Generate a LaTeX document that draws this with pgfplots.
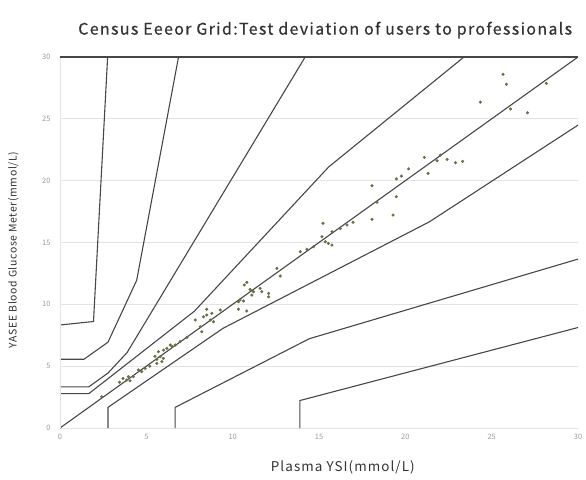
\documentclass[border=0pt]{standalone}
\usepackage{pgfplots}
\pgfplotsset{compat=1.18}
\usepackage{fontspec}
\setmainfont{Noto Sans CJK SC}
\newfontfamily\titlefont{Noto Sans CJK SC}[LetterSpace=8.5, FakeBold=0.6]
\newfontfamily\labelfont{Noto Sans CJK SC}[LetterSpace=8]
\newfontfamily\ylabelfont{Noto Sans CJK SC}[LetterSpace=6]
\definecolor{zone}{HTML}{474747}
\definecolor{gridc}{HTML}{E3E3E3}
\definecolor{tickc}{HTML}{9A9A9A}
\definecolor{dotc}{HTML}{637040}
\definecolor{textc}{HTML}{333333}
\begin{document}
\begin{tikzpicture}
\begin{axis}[name=ax, at={(0,0)}, anchor=south west,
  scale only axis, width=518bp, height=371bp,
  xmin=0, xmax=30, ymin=0, ymax=30,
  xtick={0,5,...,30}, ytick={0,5,...,30},
  axis line style={draw=none},
  major tick length=0pt,
  ymajorgrids, grid style={color=gridc, line width=0.9bp},
  tick label style={font=\fontsize{7.5}{8}\selectfont, color=tickc},
  /pgf/number format/assume math mode=true,
  xticklabel style={yshift=-3bp},
  yticklabel style={xshift=-6bp},
  xlabel={\labelfont\fontsize{13.5}{15}\selectfont Plasma YSI(mmol/L)},
  xlabel style={at={(axis description cs:0.546,0)}, anchor=center, yshift=-39bp, color=textc},
  ylabel={\ylabelfont\fontsize{10.5}{12}\selectfont YASEE Blood Glucose Meter(mmol/L)},
  ylabel style={at={(axis description cs:-0.09,0.48)}, anchor=center, color=textc},
  title={\titlefont\fontsize{16}{18}\selectfont Census Eeeor Grid:Test deviation of users to professionals},
  title style={at={(axis description cs:0.512,1)}, anchor=center, yshift=21bp, color=textc},
  every axis plot/.append style={line width=1.1bp, color=zone},
]
% identity
\addplot[no marks] coordinates {(0,0) (30,30)};
% A upper
\addplot[no marks] coordinates {(0,2.78) (1.67,2.78) (7.78,9.44) (15.56,21.11) (23.89,30.56)};
% A lower
\addplot[no marks] coordinates {(2.78,0) (2.78,1.67) (9.44,8.06) (21.39,16.67) (30.56,25)};
% B upper
\addplot[no marks] coordinates {(0,3.33) (1.67,3.33) (2.78,4.44) (3.89,6.11) (14.44,30.56)};
% B lower
\addplot[no marks] coordinates {(6.67,0) (6.67,1.67) (14.44,7.22) (30.56,13.89)};
% C upper
\addplot[no marks] coordinates {(0,5.56) (1.39,5.56) (2.78,6.94) (4.44,11.94) (6.94,30.56)};
% C lower
\addplot[no marks] coordinates {(13.89,0) (13.89,2.22) (30.56,8.33)};
% D upper
\addplot[no marks] coordinates {(0,8.33) (1.94,8.61) (2.78,30.56)};
% measurements
\addplot[only marks, mark=*, mark size=1.4bp, color=dotc, fill=dotc, line width=0.3bp] coordinates {
(25.66,28.6) (25.86,27.8) (24.35,26.35) (28.17,27.87) (26.09,25.79) (27.07,25.49)
(21.10,21.88) (22.03,22.07) (21.84,21.61) (22.42,21.72) (22.90,21.45) (23.32,21.56)
(21.32,20.59) (20.19,20.96) (19.77,20.37) (19.48,20.15) (18.07,19.59) (19.48,18.70)
(18.36,18.25) (19.29,17.22)
(15.23,16.55) (18.07,16.87) (16.97,16.63) (16.62,16.41) (16.23,16.14) (15.75,15.87)
(15.17,15.47) (15.36,15.06) (15.75,14.79) (15.54,14.93) (14.68,14.66) (14.30,14.45) (13.91,14.25)
(12.56,12.91) (12.75,12.29) (10.82,11.78) (10.67,11.56) (11.01,11.21) (11.21,11.02)
(11.59,11.29) (11.69,11.02) (12.08,10.89) (12.08,10.61) (11.11,10.75) (10.43,10.35)
(10.34,10.21) (10.63,10.27) (10.34,9.60) (10.82,9.46) (9.28,9.54) (8.79,9.27) (8.50,9.60)
(8.50,9.14) (8.70,8.73) (8.89,8.59) (8.31,9.00) (7.83,8.73) (8.12,8.19) (8.21,7.79) (7.35,7.33)
(6.96,6.98) (6.67,6.71) (6.38,6.71) (6.19,6.44) (5.70,6.17) (5.80,5.76) (5.61,5.55)
(5.99,5.63) (5.90,5.36) (5.61,5.23) (4.93,4.83) (4.74,4.55) (4.54,4.69) (4.25,4.15)
(3.96,4.15) (3.87,3.88) (4.06,3.82) (2.42,2.53) (3.45,3.70) (3.65,4.00) (5.20,5.00)
(5.50,5.80) (6.00,6.30) (6.50,6.60)
};
\end{axis}
\draw[gridc, line width=0.9bp] (ax.south west) -- (ax.north west);
\draw[zone, line width=1.8bp] (ax.north west) -- (ax.north east);
\path[use as bounding box] (-60bp,-52bp) rectangle (526bp,428bp);
\end{tikzpicture}
\end{document}
